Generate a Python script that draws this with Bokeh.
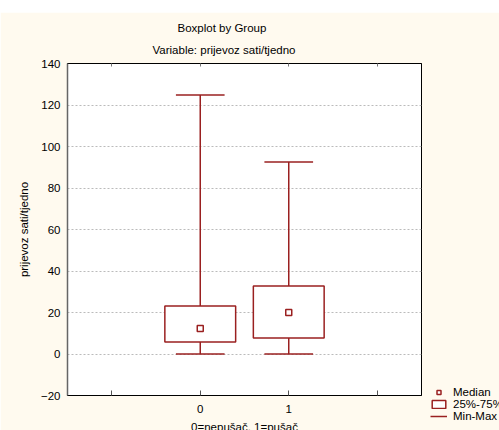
from bokeh.plotting import figure
from bokeh.models import (Range1d, FixedTicker, LinearAxis, Title, Legend, LegendItem,
                          ColumnDataSource)
from bokeh.embed import file_html
from bokeh.resources import INLINE

# ---- data ----
groups = [0, 1]
group_labels = ["0", "1"]
v_min = [0.0, 0.0]
v_q1 = [5.8, 7.7]
v_med = [12.3, 20.0]
v_q3 = [23.1, 32.8]
v_max = [124.8, 92.5]
y_ticks = [-20, 0, 20, 40, 60, 80, 100, 120, 140]
x_ticks = [-1, 0, 1, 2]
title1 = "Boxplot by Group"
title2 = "Variable: prijevoz sati/tjedno"
y_label = "prijevoz sati/tjedno"
x_label = "0=nepušač, 1=pušač"
legend_labels = ["Median", "25%-75%", "Min-Max"]

# ---- style ----
RED = "#9A2020"
CREAM = "#FFFAEF"
FONT = "Liberation Sans"
FS = "11.5px"
BOX_W = 0.8
CAP_W = 0.55
X0, X1 = -1.5, 2.5
Y0, Y1 = -20, 140
TOP = 12
FL, FT, FW, FH = 67, 63, 354, 332

src = ColumnDataSource(dict(
    x=groups,
    left=[g - BOX_W / 2 for g in groups],
    right=[g + BOX_W / 2 for g in groups],
    cl=[g - CAP_W / 2 for g in groups],
    cr=[g + CAP_W / 2 for g in groups],
    vmin=v_min, q1=v_q1, med=v_med, q3=v_q3, vmax=v_max,
))

p = figure(frame_width=FW, frame_height=FH,
           x_range=Range1d(X0, X1), y_range=Range1d(Y0, Y1),
           output_backend="svg", toolbar_location=None, title_location=None,
           min_border_left=FL, min_border_top=FT - TOP,
           min_border_right=499 - (FL + FW), min_border_bottom=430 - (FT + FH))
p.margin = (TOP, 0, 0, 0)
p.border_fill_color = CREAM
p.background_fill_color = "white"
p.outline_line_color = "black"
p.outline_line_width = 1

# axes
p.xaxis.ticker = FixedTicker(ticks=x_ticks)
p.xaxis.major_label_overrides = {-1: " ", 0: group_labels[0], 1: group_labels[1], 2: " "}
p.yaxis.ticker = FixedTicker(ticks=y_ticks)
for ax in (p.xaxis[0], p.yaxis[0]):
    ax.major_label_text_font = FONT
    ax.major_label_text_font_size = FS
    ax.major_label_text_color = "black"
    ax.minor_tick_line_color = None
    ax.major_tick_out = 0
    ax.major_label_standoff = 7
    ax.axis_label_text_font = FONT
    ax.axis_label_text_font_size = FS
    ax.axis_label_text_font_style = "normal"
    ax.axis_label_text_color = "black"
p.xaxis.major_tick_in = 5
p.xaxis.major_tick_line_color = "#555555"
p.xaxis.axis_label = x_label
p.xaxis.axis_label_standoff = 3
p.yaxis.major_tick_in = 0
p.yaxis.axis_line_color = "#666666"
p.yaxis.axis_line_width = 1.5
p.yaxis.axis_label = y_label
p.yaxis.axis_label_standoff = 8

top = LinearAxis(ticker=FixedTicker(ticks=x_ticks), major_label_text_font_size="0px",
                 major_label_standoff=0,
                 major_tick_in=3, major_tick_out=0, minor_tick_line_color=None,
                 major_tick_line_color="#777777", axis_line_color="black")
p.add_layout(top, "above")

for txt, off, so in ((title2, 85, 16), (title1, 110, 0)):
    p.add_layout(Title(text=txt, align="left", offset=off, standoff=so,
                       text_font=FONT, text_font_size=FS,
                       text_font_style="normal", text_color="black"), "above")

p.xgrid.grid_line_color = None
p.ygrid.grid_line_color = "#BBBBBB"
p.ygrid.grid_line_dash = "2 2"
p.ygrid.grid_line_width = 1

# whiskers
p.segment(x0="x", y0="q3", x1="x", y1="vmax", source=src, line_color=RED, line_width=1.5)
p.segment(x0="x", y0="q1", x1="x", y1="vmin", source=src, line_color=RED, line_width=1.5)
caps = p.segment(x0="cl", y0="vmax", x1="cr", y1="vmax", source=src, line_color=RED, line_width=1.5)
p.segment(x0="cl", y0="vmin", x1="cr", y1="vmin", source=src, line_color=RED, line_width=1.5)
# boxes
boxes = p.quad(left="left", right="right", bottom="q1", top="q3", source=src,
               fill_color="white", line_color=RED, line_width=1.5)
# medians
meds = p.scatter(x="x", y="med", source=src, marker="square", size=6,
                 fill_color="white", line_color=RED, line_width=1.5)

legend = Legend(items=[
    LegendItem(label=legend_labels[0], renderers=[meds]),
    LegendItem(label=legend_labels[1], renderers=[boxes]),
    LegendItem(label=legend_labels[2], renderers=[caps]),
], location=(9, -27), orientation="vertical",
    label_text_font=FONT, label_text_font_size=FS, label_text_color="black",
    label_text_line_height=0.8,
    glyph_width=17, glyph_height=10, label_standoff=6, spacing=0,
    padding=0, margin=0, border_line_color=None, background_fill_alpha=0,
    label_height=10)
p.add_layout(legend, "right")

open("out.html", "w").write(file_html(p, INLINE))
